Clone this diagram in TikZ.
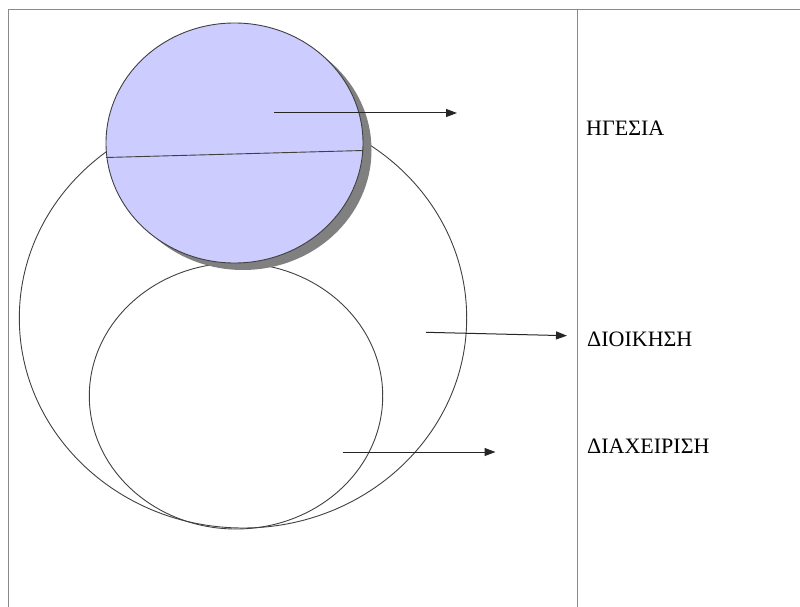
\documentclass[tikz,border=0pt]{standalone}
\usepackage{fontspec}
\setmainfont{Liberation Serif}
\usetikzlibrary{arrows.meta}
\definecolor{lav}{HTML}{CCCCFF}
\definecolor{framegray}{HTML}{8A8A8A}
\definecolor{shadowgray}{HTML}{808080}
\tikzset{
  outline/.style={draw=black!75, line width=0.9pt},
  framel/.style={draw=framegray, line width=1.4pt},
  arr/.style={draw=black!85, line width=1pt, -{Triangle[length=11pt,width=8pt]}},
  lbl/.style={anchor=west, inner sep=0pt, font=\fontsize{22}{22}\selectfont}
}
\begin{document}
\begin{tikzpicture}[x=1pt,y=-1pt]
\useasboundingbox (0,0) rectangle (800,607);
\begin{scope}
\clip (0,0) rectangle (800,607);
% frame
\draw[framel] (8.5,620) -- (8.5,9.5) -- (820,9.5);
\draw[framel] (577.5,9.5) -- (577.5,620);
\end{scope}
% big and inner circles
\draw[outline] (243,318) ellipse [x radius=223.7pt, y radius=210pt];
\draw[outline] (236,396) ellipse [x radius=146.7pt, y radius=133pt];
% shadow and blue ellipse
\fill[shadowgray] (243,150) ellipse [x radius=128.5pt, y radius=120pt];
\draw[outline, fill=lav] (234.5,143) ellipse [x radius=128.5pt, y radius=120pt];
\coordinate (chL) at (106,157.5);
\coordinate (chR) at (363,150.5);
\draw[outline] (chL) -- (chR);
% labels
\node[lbl] (hg) at (586,128.5) {ΗΓΕΣΙΑ};
\node[lbl] (di) at (587,339.5) {ΔΙΟΙΚΗΣΗ};
\node[lbl] (dx) at (587,446) {ΔΙΑΧΕΙΡΙΣΗ};
% arrows
\coordinate (a1s) at (274,113);
\coordinate (a1e) at (457,113);
\coordinate (a2s) at (426,332.3);
\coordinate (a2e) at (567,335.7);
\coordinate (a3s) at (342.5,452);
\coordinate (a3e) at (495.5,452);
\draw[arr] (a1s) -- (a1e);
\draw[arr] (a2s) -- (a2e);
\draw[arr] (a3s) -- (a3e);
\end{tikzpicture}
\end{document}
